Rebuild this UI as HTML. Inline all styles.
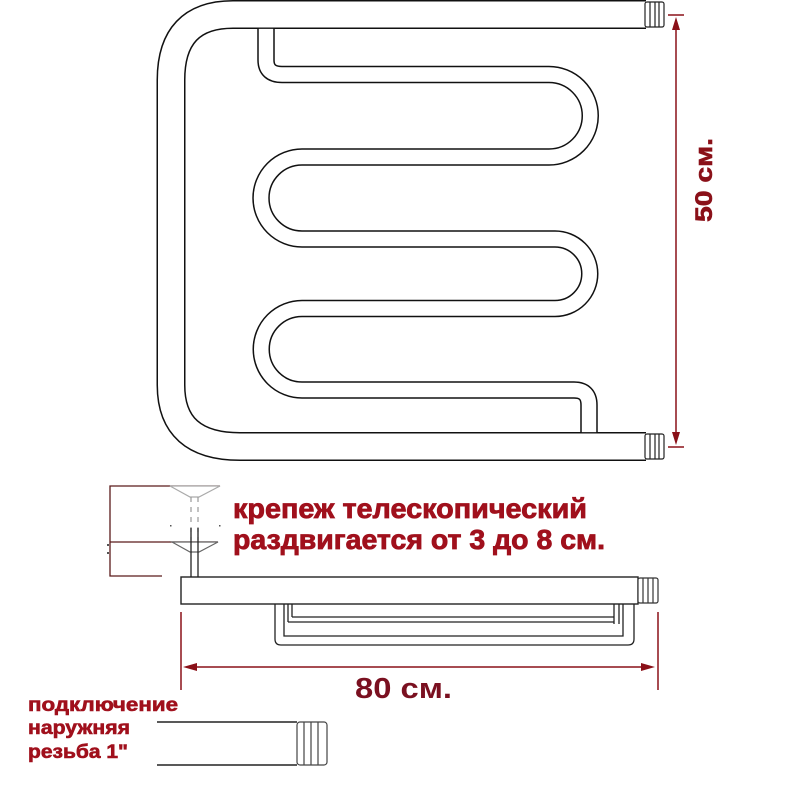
<!DOCTYPE html>
<html><head><meta charset="utf-8"><style>html,body{margin:0;padding:0;background:#fff}svg{display:block}</style></head>
<body>
<svg width="800" height="800" viewBox="0 0 800 800" xmlns="http://www.w3.org/2000/svg" font-family="Liberation Sans, sans-serif">
<rect width="800" height="800" fill="#fff"/>
<!-- frame -->
<path d="M646,14.5 H233 Q171,14.5 171,80 V385 Q171,446.5 240,446.5 H646" fill="none" stroke="#111" stroke-width="29"/>
<path d="M266,29 V60 Q266,74.5 282,74.5 H549 A41.25,41.25 0 0 1 549,157 H302 A41,41 0 0 0 302,239 H555 A34.75,34.75 0 0 1 555,308.5 H302 A40.75,40.75 0 0 0 302,390 H574 Q589,390 589,405 V433" fill="none" stroke="#111" stroke-width="17.5"/>
<path d="M647,14.5 H233 Q171,14.5 171,80 V385 Q171,446.5 240,446.5 H647" fill="none" stroke="#fff" stroke-width="26"/>
<path d="M266,28 V60 Q266,74.5 282,74.5 H549 A41.25,41.25 0 0 1 549,157 H302 A41,41 0 0 0 302,239 H555 A34.75,34.75 0 0 1 555,308.5 H302 A40.75,40.75 0 0 0 302,390 H574 Q589,390 589,405 V434" fill="none" stroke="#fff" stroke-width="14.5"/>
<g stroke="#111" stroke-width="1.4"><line x1="240" y1="28.2" x2="646" y2="28.2"/><line x1="240" y1="432.8" x2="646" y2="432.8"/></g>
<!-- fittings -->
<g fill="#fff" stroke="#222" stroke-width="1.2">
<rect x="645" y="2" width="19" height="25" rx="2"/><line x1="650" y1="2" x2="650" y2="27"/><line x1="655" y1="2" x2="655" y2="27"/><line x1="659" y1="2" x2="659" y2="27"/>
<rect x="645" y="434" width="19" height="25" rx="2"/><line x1="650" y1="434" x2="650" y2="459"/><line x1="655" y1="434" x2="655" y2="459"/><line x1="659" y1="434" x2="659" y2="459"/>
</g>
<!-- 50 dimension -->
<g stroke="#8a1018" stroke-width="1.5" fill="#8a1018">
<line x1="676" y1="22" x2="676" y2="440"/>
<line x1="668" y1="15" x2="684" y2="15"/><line x1="668" y1="447" x2="684" y2="447"/>
<path d="M676,17 L672,30 L680,30 Z" stroke="none"/><path d="M676,445 L672,432 L680,432 Z" stroke="none"/>
</g>
<text transform="translate(712,222) rotate(-90)" font-size="24" font-weight="bold" fill="#8a1018" stroke="#8a1018" stroke-width="0.6" textLength="84" lengthAdjust="spacingAndGlyphs">50 см.</text>
<!-- mount -->
<g stroke="#5a1a1a" stroke-width="1.3" fill="none">
<polyline points="220,486 110,486 110,576 162,576"/>
<line x1="110" y1="542" x2="218" y2="542"/>
</g>
<path d="M170,486 L220,486 L199,497 L190,497 Z" fill="#fff" stroke="#aaa" stroke-width="1.2"/>
<g stroke="#999" stroke-width="1.2" stroke-dasharray="5,5"><line x1="191" y1="497" x2="191" y2="540"/><line x1="198" y1="497" x2="198" y2="540"/></g>
<path d="M172,542 L218,542 L199,552 L190,552 Z" fill="#fff" stroke="#666" stroke-width="1.2"/>
<g stroke="#222" stroke-width="1.3"><line x1="191" y1="528" x2="191" y2="577"/><line x1="198" y1="528" x2="198" y2="577"/></g>
<g fill="#555"><rect x="107" y="544" width="2" height="2"/><rect x="107" y="552" width="2" height="2"/><rect x="170" y="525" width="1.5" height="1.5"/><rect x="219" y="525" width="1.5" height="1.5"/></g>
<!-- bar -->
<rect x="181" y="577" width="457" height="27" fill="#fff" stroke="#222" stroke-width="1.4"/>
<g fill="#fff" stroke="#333" stroke-width="1.2"><rect x="638" y="578" width="20" height="25" rx="2"/><line x1="643" y1="578" x2="643" y2="603"/><line x1="648" y1="578" x2="648" y2="603"/><line x1="653" y1="578" x2="653" y2="603"/></g>
<g fill="none" stroke="#222" stroke-width="1.3">
<path d="M275,604 V639 Q275,645 281,645 H628 Q634,645 634,639 V604"/>
<path d="M284,604 V636 H623 V604"/>
<line x1="288" y1="604" x2="288" y2="622"/><line x1="292" y1="604" x2="292" y2="617"/>
<line x1="614" y1="604" x2="614" y2="624"/><line x1="619" y1="604" x2="619" y2="624"/>
<line x1="292" y1="617" x2="614" y2="617"/><line x1="288" y1="622" x2="614" y2="622"/>
</g>
<!-- 80 dimension -->
<g stroke="#8a1018" stroke-width="1.5" fill="#8a1018">
<line x1="181" y1="612" x2="181" y2="690"/><line x1="658" y1="612" x2="658" y2="690"/>
<line x1="190" y1="667" x2="648" y2="667"/>
<path d="M183,667 L197,663 L197,671 Z" stroke="none"/><path d="M655,667 L641,663 L641,671 Z" stroke="none"/>
</g>
<text x="355" y="698" font-size="29" font-weight="bold" fill="#7a1020" textLength="97" lengthAdjust="spacingAndGlyphs">80 см.</text>
<!-- red text -->
<g fill="#a0101c" stroke="#a0101c" stroke-width="0.8" font-weight="bold" font-size="28">
<text x="233" y="518" textLength="354" lengthAdjust="spacingAndGlyphs">крепеж телескопический</text>
<text x="233" y="549" textLength="372" lengthAdjust="spacingAndGlyphs">раздвигается от 3 до 8 см.</text>
</g>
<g fill="#a0101c" stroke="#a0101c" stroke-width="0.6" font-weight="bold" font-size="19">
<text x="28" y="711" textLength="150" lengthAdjust="spacingAndGlyphs">подключение</text>
<text x="28" y="734" textLength="102" lengthAdjust="spacingAndGlyphs">наружняя</text>
<text x="28" y="758" textLength="100" lengthAdjust="spacingAndGlyphs">резьба 1"</text>
</g>
<!-- pipe connection -->
<g stroke="#222" stroke-width="1.4" fill="none">
<line x1="157" y1="722" x2="297" y2="722"/><line x1="157" y1="765" x2="297" y2="765"/>
</g>
<g fill="#fff" stroke="#444" stroke-width="1.2">
<rect x="297" y="722" width="30" height="43" rx="3"/><line x1="304" y1="722" x2="304" y2="765"/><line x1="311" y1="722" x2="311" y2="765"/><line x1="318" y1="722" x2="318" y2="765"/>
</g>
</svg>
</body></html>
